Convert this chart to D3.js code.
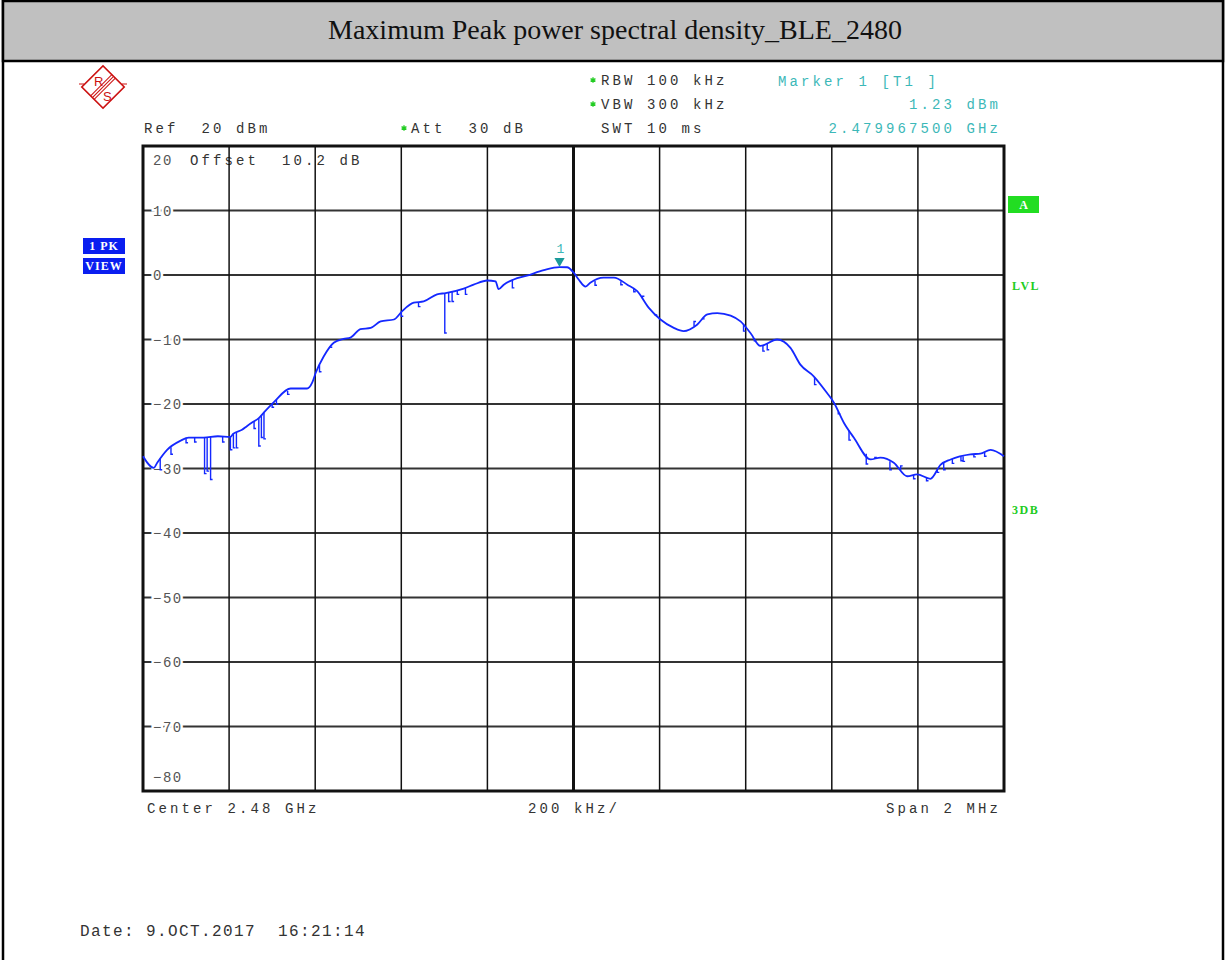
<!DOCTYPE html>
<html>
<head>
<meta charset="utf-8">
<script src="https://cdn.jsdelivr.net/npm/d3@7"></script>
<style>
  body { margin: 0; background: #fff; }
  text { white-space: pre; }
</style>
</head>
<body>
<svg id="space_svg" width="1226" height="960"></svg>
<script>
// 資料：頻率偏移 (kHz，相對 2.48 GHz) 與功率 (dBm)
const freqKHz = [-1000, -975, -967, -944, -913, -894, -859, -826, -797, -790, -770, -758, -745, -731, -719, -696,
  -657, -619, -607, -599, -580, -557, -534, -518, -495, -471, -448, -417, -398, -371, -348, -317, -297, -255,
  -232, -200, -181, -174, -162, -139, -108, -69, -32.5, -15, 0, 12, 28, 39, 70, 94, 125, 148, 175, 202, 233,
  256, 287, 311, 334, 365, 388, 411, 434, 473, 504, 527, 558, 589, 605, 628, 651, 690, 713, 744, 775, 798,
  829, 853, 876, 922, 945, 969, 1000];
const levelDbm = [-28.1, -29.9, -29.1, -27.1, -25.7, -25.2, -25.2, -25.0, -25.1, -24.6, -24.0, -23.4, -22.8, -22.2,
  -21.3, -19.7, -17.6, -17.6, -16.7, -15.2, -12.6, -10.5, -9.9, -9.7, -8.4, -8.2, -7.2, -6.9, -5.6, -4.3, -4.1,
  -3.0, -2.8, -2.1, -1.5, -0.85, -1.0, -2.2, -1.5, -0.7, -0.1, 0.75, 1.23, 1.2, 0.4, -0.7, -1.8, -1.2, -0.4,
  -0.4, -1.5, -2.5, -5.1, -6.9, -8.2, -8.7, -7.7, -6.1, -5.9, -6.3, -7.2, -9.0, -11.0, -10.0, -11.3, -13.9,
  -15.7, -18.3, -19.8, -22.9, -25.2, -28.6, -28.3, -29.1, -31.2, -30.9, -31.6, -29.4, -28.6, -27.8, -27.7,
  -27.1, -28.1];

// 掉落的尖峰 (頻率 kHz, 最低點 dBm)
const spikeFreq = [-857, -851, -843, -797, -790, -783, -731, -725, -719, -299, -290, -282, -270, -251, -142,
  -935, -900, -880, -700, -690, -664, -400, -360, 110, 140, 300, 420, 440, 700, 760, 790, 860, 900, 930,
  -960, -815, -742, -590, -565, 50, 160, 190, 280, 395, 450, 560, 615, 640, 680, 735, 820, 845, 880, 905, 955];
const spikeLow = [-30.8, -30.4, -31.7, -27.1, -26.8, -26.8, -26.5, -25.2, -25.4, -9.0, -4.1, -4.1, -3.0, -3.0, -2.0,
  -27.8, -26.0, -25.9, -20.5, -20.0, -18.5, -6.4, -4.9, -1.5, -2.6, -6.8, -10.2, -11.8, -28.3, -29.6, -31.6,
  -30.2, -28.8, -28.2,
  -30.2, -25.9, -23.8, -15.0, -11.2, -1.6, -3.3, -6.2, -7.2, -8.7, -11.6, -17.0, -21.5, -25.6, -29.3, -30.2,
  -31.9, -30.6, -29.2, -28.9, -28.1];

const yTicks = [20, 10, 0, -10, -20, -30, -40, -50, -60, -70, -80];
const xTicks = [-1000, -800, -600, -400, -200, 0, 200, 400, 600, 800, 1000];

const marker = { freq: -32.5, level: 1.23 };

const svg = d3.select("#space_svg");
const mono = "'Liberation Mono', 'Courier New', monospace";

// 外框與標題
svg.append("rect").attr("x", 3).attr("y", 1).attr("width", 1220).attr("height", 975)
  .attr("fill", "none").attr("stroke", "#000").attr("stroke-width", 2.5);
svg.append("rect").attr("x", 3).attr("y", 1).attr("width", 1220).attr("height", 60)
  .attr("fill", "#c0c0c0").attr("stroke", "#000").attr("stroke-width", 2.5);
svg.append("text").attr("x", 615).attr("y", 39).attr("text-anchor", "middle")
  .style("font-family", "'Liberation Serif', 'Times New Roman', serif").style("font-size", "28px")
  .attr("fill", "#111").text("Maximum Peak power spectral density_BLE_2480");

// R&S logo
const logo = svg.append("g").attr("transform", "translate(103,87)");
logo.append("rect").attr("x", -15).attr("y", -15).attr("width", 30).attr("height", 30)
  .attr("transform", "rotate(45)").attr("fill", "none").attr("stroke", "#cc1111").attr("stroke-width", 1.6);
[-2.5, 0, 2.5].forEach(d => {
  logo.append("line").attr("x1", -15).attr("x2", 15).attr("y1", d).attr("y2", d)
    .attr("transform", "rotate(-45)").attr("stroke", "#cc1111").attr("stroke-width", 1);
});
logo.append("line").attr("x1", 19).attr("x2", 24).attr("y1", -3).attr("y2", -3).attr("stroke", "#cc1111");
logo.append("line").attr("x1", -24).attr("x2", -19).attr("y1", -3).attr("y2", -3).attr("stroke", "#cc1111");
logo.append("text").attr("x", -9).attr("y", -1).text("R")
  .style("font-family", "'Liberation Sans', sans-serif").style("font-size", "13px").attr("fill", "#cc1111");
logo.append("text").attr("x", 0).attr("y", 14).text("S")
  .style("font-family", "'Liberation Sans', sans-serif").style("font-size", "13px").attr("fill", "#cc1111");

// 比例尺
const x = d3.scaleLinear().domain([-1000, 1000]).range([143, 1004]);
const y = d3.scaleLinear().domain([-80, 20]).range([791, 146]);

function label(tx, ty, str, color, anchor) {
  return svg.append("text").attr("x", tx).attr("y", ty)
    .attr("text-anchor", anchor || "start")
    .style("font-family", mono).style("font-size", "14px").style("letter-spacing", "3.1px")
    .attr("fill", color || "#333").text(str);
}
function star(tx, ty) {
  svg.append("path").attr("d", d3.symbol().type(d3.symbolAsterisk).size(22))
    .attr("transform", "translate(" + tx + "," + ty + ")")
    .attr("fill", "none").attr("stroke", "#22cc22").attr("stroke-width", 1.3);
}

// 頂部設定文字
star(593, 80); label(601, 85, "RBW 100 kHz");
star(593, 104); label(601, 109, "VBW 300 kHz");
label(601, 133, "SWT 10 ms");
label(144, 133, "Ref  20 dBm");
star(404, 128); label(411, 133, "Att  30 dB");
label(778, 86, "Marker 1 [T1 ]", "#3cb8b8");
label(1001, 109, "1.23 dBm", "#3cb8b8", "end");
label(1001, 133, "2.479967500 GHz", "#3cb8b8", "end");
label(190, 165, "Offset  10.2 dB");

// 格線
svg.append("g").selectAll("line").data(yTicks.slice(1, -1)).join("line")
  .attr("x1", x(-1000)).attr("x2", x(1000))
  .attr("y1", d => y(d)).attr("y2", d => y(d))
  .attr("stroke", "#333").attr("stroke-width", 2);
svg.append("g").selectAll("line").data(xTicks.slice(1, -1)).join("line")
  .attr("x1", d => x(d)).attr("x2", d => x(d))
  .attr("y1", y(20)).attr("y2", y(-80))
  .attr("stroke", "#111").attr("stroke-width", d => d === 0 ? 3 : 1.5);
svg.append("rect").attr("x", x(-1000)).attr("y", y(20))
  .attr("width", x(1000) - x(-1000)).attr("height", y(-80) - y(20))
  .attr("fill", "none").attr("stroke", "#111").attr("stroke-width", 3);

// Y 軸刻度文字
svg.append("g").selectAll("text").data(yTicks).join("text")
  .attr("x", 153)
  .attr("y", d => d === 20 ? y(d) + 19 : d === -80 ? y(d) - 9 : y(d) + 5)
  .style("font-family", mono).style("font-size", "14px").style("letter-spacing", "1.5px")
  .attr("fill", "#555").attr("stroke", "#fff").attr("stroke-width", d => (d === 20 || d === -80) ? 0 : 5)
  .style("paint-order", "stroke")
  .text(d => d3.format("d")(d));

// 掃描軌跡
const trace = freqKHz.map((f, i) => [f, levelDbm[i]]);
const line = d3.line().x(d => x(d[0])).y(d => y(d[1])).curve(d3.curveMonotoneX);
svg.append("path").datum(trace).attr("d", line)
  .attr("fill", "none").attr("stroke", "#1428ff").attr("stroke-width", 1.8)
  .attr("stroke-linejoin", "round");

const bis = d3.bisector(d => d[0]).left;
function levelAt(f) {
  const i = Math.max(1, Math.min(trace.length - 1, bis(trace, f)));
  const a = trace[i - 1], b = trace[i];
  return a[1] + (b[1] - a[1]) * (f - a[0]) / (b[0] - a[0]);
}
svg.append("g").selectAll("path").data(spikeFreq).join("path")
  .attr("d", (f, i) => {
    const top = levelAt(f);
    return "M" + x(f) + "," + y(top) + "V" + y(spikeLow[i]) + "h2";
  })
  .attr("fill", "none").attr("stroke", "#1428ff").attr("stroke-width", 1.4);

// 標記 1
const mx = x(marker.freq), my = y(marker.level);
svg.append("path").attr("d", d3.symbol().type(d3.symbolTriangle).size(45))
  .attr("transform", "translate(" + mx + "," + (my - 6) + ") rotate(180)")
  .attr("fill", "#1a9a9a");
svg.append("text").attr("x", mx + 1).attr("y", my - 14).attr("text-anchor", "middle")
  .style("font-family", mono).style("font-size", "13px").attr("fill", "#3cb8b8").text("1");

// 左側標籤
[["1 PK", 238], ["VIEW", 258]].forEach(([t, ty]) => {
  svg.append("rect").attr("x", 83).attr("y", ty).attr("width", 42).attr("height", 16).attr("fill", "#0a1ef0");
  svg.append("text").attr("x", 104).attr("y", ty + 12).attr("text-anchor", "middle")
    .style("font-family", "'Liberation Serif', serif").style("font-size", "12px").style("font-weight", "bold")
    .style("letter-spacing", "1px").attr("fill", "#fff").text(t);
});

// 右側標籤
svg.append("rect").attr("x", 1008).attr("y", 196).attr("width", 31).attr("height", 17).attr("fill", "#22dd22");
svg.append("text").attr("x", 1023.5).attr("y", 209).attr("text-anchor", "middle")
  .style("font-family", "'Liberation Serif', serif").style("font-size", "12px").style("font-weight", "bold")
  .attr("fill", "#fff").text("A");
[["LVL", 290], ["3DB", 514]].forEach(([t, ty]) => {
  svg.append("text").attr("x", 1012).attr("y", ty)
    .style("font-family", "'Liberation Serif', serif").style("font-size", "12px").style("font-weight", "bold")
    .style("letter-spacing", "1.5px").attr("fill", "#22cc22").text(t);
});

// 底部文字
label(147, 813, "Center 2.48 GHz");
label(528, 813, "200 kHz/");
label(1001, 813, "Span 2 MHz", "#333", "end");
svg.append("text").attr("x", 80).attr("y", 936)
  .style("font-family", mono).style("font-size", "16px").style("letter-spacing", "1.4px")
  .attr("fill", "#333").text("Date: 9.OCT.2017  16:21:14");
</script>
</body>
</html>
